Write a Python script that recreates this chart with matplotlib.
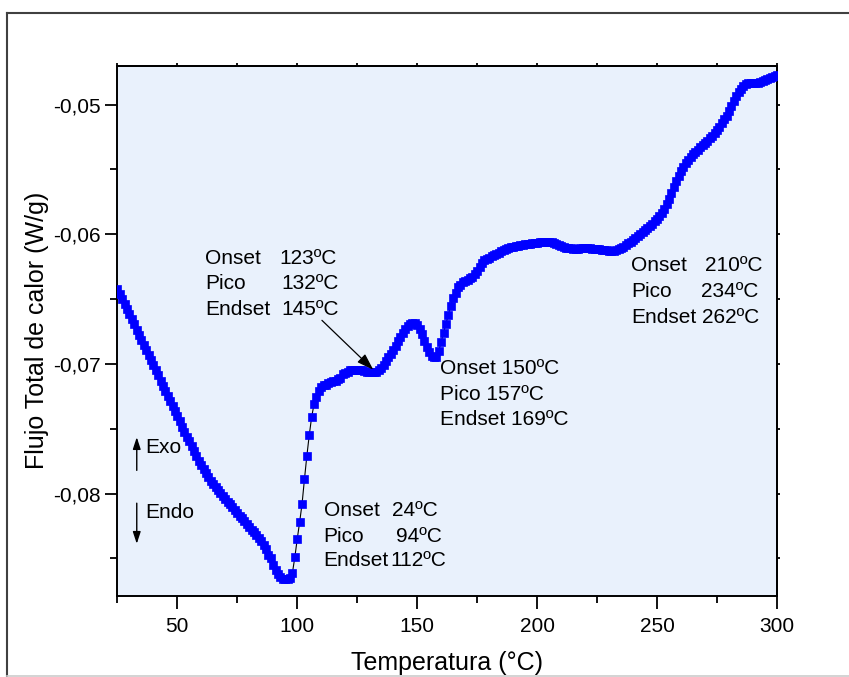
import matplotlib
matplotlib.use("Agg")
import matplotlib.pyplot as plt
from matplotlib.ticker import MultipleLocator, FuncFormatter
from matplotlib.lines import Line2D

plt.rcParams['font.family'] = ['Liberation Sans', 'DejaVu Sans']

# ---- data ----
temperatura = list(range(25, 301))
flujo = [
    -0.06420, -0.06459, -0.06499, -0.06538, -0.06577, -0.06617, -0.06656, -0.06695, -0.06735, -0.06774,
    -0.06814, -0.06853, -0.06892, -0.06932, -0.06971, -0.07010, -0.07050, -0.07089, -0.07129, -0.07168,
    -0.07207, -0.07247, -0.07286, -0.07325, -0.07365, -0.07404, -0.07443, -0.07483, -0.07522, -0.07560,
    -0.07598, -0.07636, -0.07673, -0.07710, -0.07745, -0.07779, -0.07812, -0.07843, -0.07873, -0.07901,
    -0.07927, -0.07951, -0.07974, -0.07996, -0.08018, -0.08040, -0.08062, -0.08084, -0.08106, -0.08128,
    -0.08149, -0.08170, -0.08191, -0.08212, -0.08233, -0.08255, -0.08277, -0.08299, -0.08321, -0.08343,
    -0.08366, -0.08395, -0.08430, -0.08470, -0.08500, -0.08550, -0.08590, -0.08620, -0.08640, -0.08655,
    -0.08660, -0.08660, -0.08650, -0.08610, -0.08490, -0.08350, -0.08220, -0.08080, -0.07890, -0.07710,
    -0.07550, -0.07410, -0.07310, -0.07255, -0.07210, -0.07180, -0.07165, -0.07160, -0.07150, -0.07140,
    -0.07130, -0.07130, -0.07120, -0.07110, -0.07080, -0.07070, -0.07060, -0.07050, -0.07045, -0.07045,
    -0.07050, -0.07050, -0.07050, -0.07055, -0.07060, -0.07063, -0.07065, -0.07065, -0.07060, -0.07050,
    -0.07030, -0.07010, -0.06980, -0.06950, -0.06920, -0.06890, -0.06860, -0.06820, -0.06790, -0.06760,
    -0.06730, -0.06710, -0.06695, -0.06685, -0.06685, -0.06700, -0.06730, -0.06770, -0.06820, -0.06870,
    -0.06910, -0.06940, -0.06950, -0.06950, -0.06900, -0.06830, -0.06760, -0.06690, -0.06620, -0.06550,
    -0.06490, -0.06450, -0.06410, -0.06390, -0.06370, -0.06360, -0.06350, -0.06340, -0.06330, -0.06310,
    -0.06280, -0.06250, -0.06220, -0.06200, -0.06190, -0.06180, -0.06170, -0.06160, -0.06150, -0.06142,
    -0.06133, -0.06124, -0.06115, -0.06108, -0.06102, -0.06097, -0.06093, -0.06089, -0.06085, -0.06082,
    -0.06079, -0.06076, -0.06073, -0.06070, -0.06067, -0.06064, -0.06062, -0.06060, -0.06059, -0.06059,
    -0.06060, -0.06063, -0.06068, -0.06074, -0.06081, -0.06089, -0.06097, -0.06103, -0.06107, -0.06109,
    -0.06110, -0.06110, -0.06110, -0.06109, -0.06108, -0.06108, -0.06108, -0.06109, -0.06110, -0.06111,
    -0.06113, -0.06115, -0.06118, -0.06121, -0.06124, -0.06126, -0.06127, -0.06126, -0.06122, -0.06115,
    -0.06106, -0.06095, -0.06083, -0.06070, -0.06056, -0.06042, -0.06028, -0.06013, -0.05999, -0.05984,
    -0.05968, -0.05952, -0.05935, -0.05918, -0.05900, -0.05880, -0.05860, -0.05838, -0.05805, -0.05765,
    -0.05725, -0.05680, -0.05635, -0.05590, -0.05550, -0.05512, -0.05478, -0.05450, -0.05425, -0.05402,
    -0.05382, -0.05364, -0.05347, -0.05330, -0.05313, -0.05296, -0.05278, -0.05260, -0.05240, -0.05218,
    -0.05195, -0.05170, -0.05143, -0.05115, -0.05085, -0.05050, -0.05010, -0.04970, -0.04935, -0.04905,
    -0.04878, -0.04855, -0.04842, -0.04836, -0.04834, -0.04833, -0.04832, -0.04830, -0.04826, -0.04820,
    -0.04812, -0.04804, -0.04796, -0.04788, -0.04780, -0.04770,
]

x_ticks = [50, 100, 150, 200, 250, 300]
y_ticks = [-0.08, -0.07, -0.06, -0.05]

bloque_a_labels = ["Onset", "Pico", "Endset"]
bloque_a_values = ["123ºC", "132ºC", "145ºC"]
bloque_b_lines = ["Onset 150ºC", "Pico 157ºC", "Endset 169ºC"]
bloque_c_labels = ["Onset", "Pico", "Endset"]
bloque_c_values = ["24ºC", "94ºC", "112ºC"]
bloque_d_labels = ["Onset", "Pico", "Endset"]
bloque_d_values = ["210ºC", "234ºC", "262ºC"]

fig = plt.figure(figsize=(8.49, 6.77), dpi=100)
ax = fig.add_axes([0.1382, 0.1196, 0.777, 0.7834])
ax.set_facecolor('#E9F1FC')

ax.plot(temperatura, flujo, color='black', lw=0.8, marker='s', ms=5.3,
        mfc='#0000FF', mec='#0000FF', mew=0.5, zorder=3)

ax.set_xlim(25, 300)
ax.set_ylim(-0.0879, -0.0470)

ax.set_xticks(x_ticks)
ax.xaxis.set_minor_locator(MultipleLocator(25))
ax.set_yticks(y_ticks)
ax.yaxis.set_minor_locator(MultipleLocator(0.005))
ax.yaxis.set_major_formatter(FuncFormatter(lambda v, p: f"{v:.2f}".replace('.', ',')))

ax.tick_params(which='major', direction='out', length=9, width=1.3, labelsize=15, pad=6)
ax.tick_params(axis='y', which='major', pad=3)
ax.tick_params(which='minor', direction='out', length=5, width=1.3)
for s in ax.spines.values():
    s.set_linewidth(1.4)

sec_x = ax.secondary_xaxis('top')
sec_x.set_xticks([25, 50, 75, 100, 125, 150, 175, 200, 225, 250, 275, 300])
sec_x.tick_params(length=2.5, width=1.3, direction='out', labeltop=False)
sec_x.spines['top'].set_linewidth(1.4)
sec_y = ax.secondary_yaxis('right')
sec_y.set_yticks([-0.085, -0.08, -0.075, -0.07, -0.065, -0.06, -0.055, -0.05])
sec_y.tick_params(length=2.5, width=1.3, direction='out', labelright=False)
sec_y.spines['right'].set_linewidth(1.4)

ax.set_xlabel("Temperatura (°C)", fontsize=18, labelpad=11)
ax.set_ylabel("Flujo Total de calor (W/g)", fontsize=18, labelpad=3)

fs = 15
for lab, val, y, vx in zip(bloque_a_labels, bloque_a_values,
                           [-0.06186, -0.06381, -0.06582], [92.4, 93.5, 93.5]):
    ax.text(61.6, y, lab, fontsize=fs, va='center', ha='left')
    ax.text(vx, y, val, fontsize=fs, va='center', ha='left')
for line, y in zip(bloque_b_lines, [-0.07037, -0.07238, -0.07431]):
    ax.text(159.5, y, line, fontsize=fs, va='center', ha='left')
for lab, val, y, vx in zip(bloque_c_labels, bloque_c_values,
                           [-0.08130, -0.08329, -0.08516], [139.4, 141.1, 138.8]):
    ax.text(111.0, y, lab, fontsize=fs, va='center', ha='left')
    ax.text(vx, y, val, fontsize=fs, va='center', ha='left')
for lab, val, y, vx in zip(bloque_d_labels, bloque_d_values,
                           [-0.0624, -0.0644, -0.06641], [269.9, 268.2, 268.6]):
    ax.text(239.2, y, lab, fontsize=fs, va='center', ha='left')
    ax.text(vx, y, val, fontsize=fs, va='center', ha='left')

ax.annotate("", xy=(131.7, -0.07045), xytext=(110.3, -0.06664),
            arrowprops=dict(arrowstyle='-|>,head_length=0.6,head_width=0.2', color='black',
                            lw=0.9, mutation_scale=17, shrinkA=0, shrinkB=0))

small_head = '-|>,head_length=0.55,head_width=0.18'
ax.annotate("", xy=(33.1, -0.07565), xytext=(33.1, -0.07821),
            arrowprops=dict(arrowstyle=small_head, color='black', lw=1.0,
                            mutation_scale=13, shrinkA=0, shrinkB=0))
ax.annotate("", xy=(33.1, -0.08387), xytext=(33.1, -0.08074),
            arrowprops=dict(arrowstyle=small_head, color='black', lw=1.0,
                            mutation_scale=13, shrinkA=0, shrinkB=0))
ax.text(36.5, -0.07642, "Exo", fontsize=fs, va='center', ha='left')
ax.text(36.5, -0.08144, "Endo", fontsize=fs, va='center', ha='left')

W, H = 849, 677
fig.add_artist(Line2D([7 / W, 7 / W], [1 - 13 / H, 1 - 676 / H], transform=fig.transFigure,
                      color='#404040', lw=1.5))
fig.add_artist(Line2D([7 / W, 1], [1 - 13 / H, 1 - 13 / H], transform=fig.transFigure,
                      color='#404040', lw=1.5))
fig.add_artist(Line2D([7 / W, 1], [1 - 676 / H, 1 - 676 / H], transform=fig.transFigure,
                      color='#cccccc', lw=1.2))

fig.savefig("out.png", dpi=100)
